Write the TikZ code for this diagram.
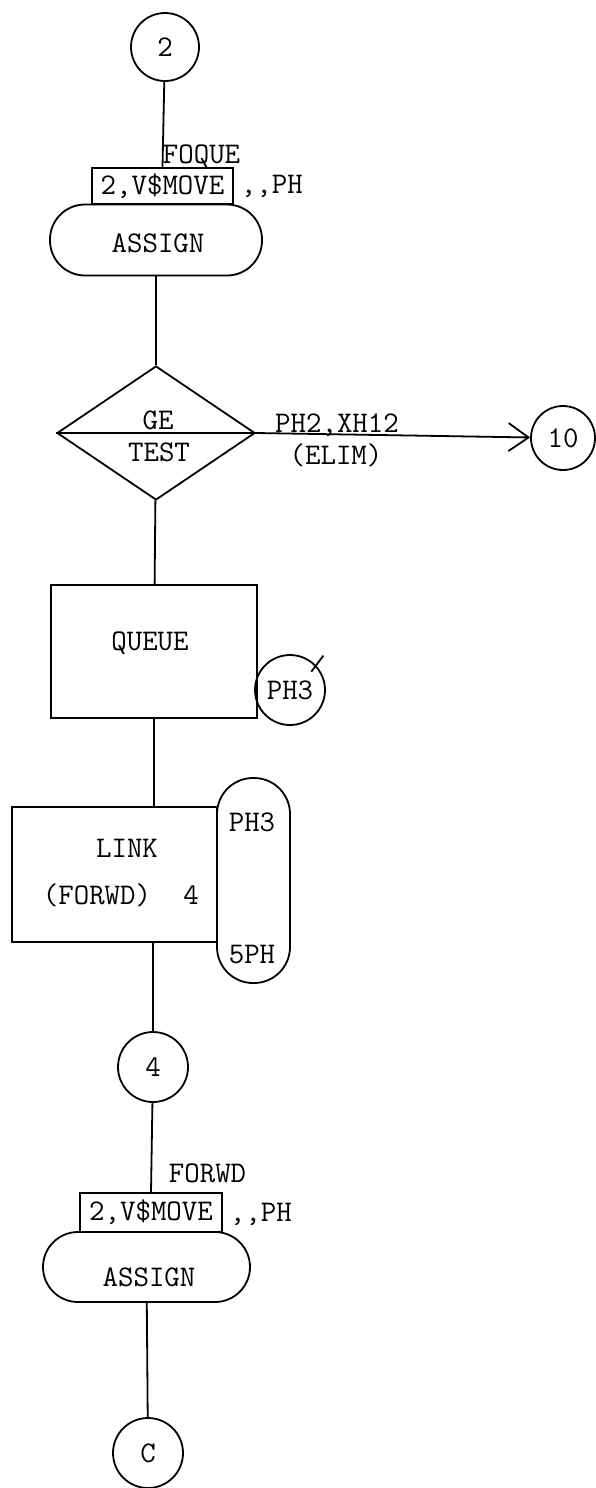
\documentclass[tikz,border=0pt]{standalone}
\usetikzlibrary{shapes.geometric,arrows.meta}
\begin{document}
\begin{tikzpicture}[
    x=0.5pt, y=-0.5pt,
    font=\ttfamily\fontsize{15}{17}\selectfont,
    line width=0.9pt,
    every node/.style={align=center},
    conn/.style={draw, circle, inner sep=0pt},
    blk/.style={draw, rectangle, inner sep=0pt},
    term/.style={draw, rectangle, rounded corners=17.5pt, inner sep=0pt},
    dec/.style={draw, diamond, inner sep=0pt},
    tag/.style={inner sep=0pt, anchor=base west},
    arr/.style={-{Straight Barb[length=10pt,width=14pt]}}
]

\useasboundingbox (0,0) rectangle (595,1488);


\node[conn, minimum size=34pt] (c2) at (165,47) {2};

\node[blk, minimum width=70.5pt, minimum height=18pt] (par1) at (162.5,186) {2,V\$MOVE};
\node[tag] (foque) at (162,163) {FOQUE};
\node[tag] (ph1) at (240,193) {,,PH};

\node[term, minimum width=106pt, minimum height=35.5pt] (asg1) at (156,240) {};
\node (asg1txt) at (158,243) {ASSIGN};


\node[dec, minimum width=99pt, minimum height=67pt] (tst) at (156,433) {};
\node[inner sep=0pt, anchor=base] (ge) at (158,429) {GE};
\node (tsttxt) at (159,452) {TEST};

\node[conn, minimum size=32pt] (c10) at (563,438) {10};
\node[inner sep=0pt, anchor=base] (elimvar) at (337,432) {PH2,XH12};
\node (elim) at (336,455) {(ELIM)};


\node[blk, minimum width=103pt, minimum height=66.5pt] (que) at (154,651.5) {};
\node (quetxt) at (150,643) {QUEUE};
\node[conn, minimum size=35pt] (qph) at (290,690) {PH3};


\node[blk, minimum width=102.5pt, minimum height=67.5pt] (lnk) at (114.5,874.5) {};
\node (lnktxt) at (127,848) {LINK};
\node (fwd) at (97,895) {(FORWD)};
\node (fwdn) at (191,895) {4};

\node[term, rounded corners=18pt, minimum width=36.5pt, minimum height=102.5pt] (lph) at (253.5,880.5) {};
\node (lphtop) at (252,822) {PH3};
\node (lphbot) at (252,955) {5PH};


\node[conn, minimum size=35pt] (c4) at (153,1067) {4};

\node[blk, minimum width=71pt, minimum height=19.5pt] (par2) at (151,1212.5) {2,V\$MOVE};
\node[tag] (forwd) at (168,1182) {FORWD};
\node[tag] (ph2) at (229,1221) {,,PH};

\node[term, minimum width=103.5pt, minimum height=35pt] (asg2) at (146.5,1267) {};
\node (asg2txt) at (149,1277) {ASSIGN};


\node[conn, minimum size=35pt] (cc) at (148,1453) {C};


\draw (c2) -- (par1.north);
\draw (asg1) -- (tst);
\draw (tst.west) -- (tst.east);
\draw[arr] (tst.east) -- (c10);
\draw (tst) -- (que);
\draw ([shift={(-4,7)}]qph.45) -- ([shift={(8,-9)}]qph.45);
\draw (que.south) -- (que.south |- lnk.north);
\draw (c4) -- (c4 |- lnk.south);
\draw (c4) -- (par2.north);
\draw (asg2) -- (cc);

\end{tikzpicture}
\end{document}
